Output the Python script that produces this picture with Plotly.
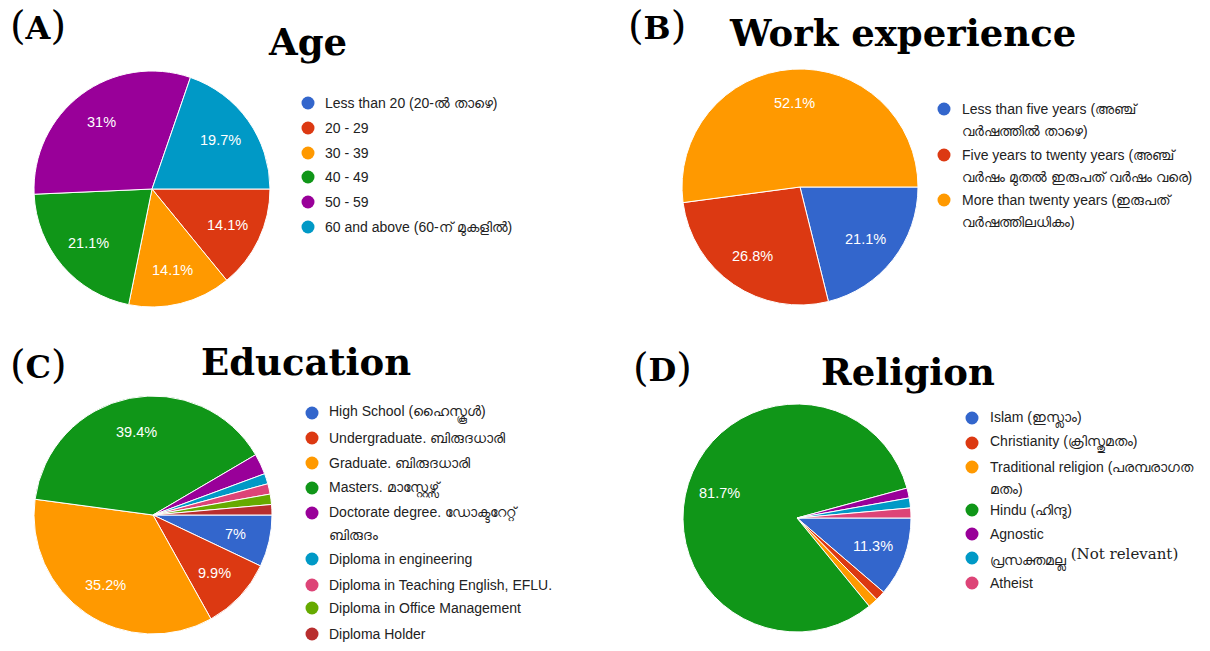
import math
import plotly.graph_objects as go

W, H = 1210, 651

COLORS = ["#3366cc", "#dc3912", "#ff9900", "#109618", "#990099",
          "#0099c6", "#dd4477", "#66aa00", "#b82e2e"]

# ---------------- data ----------------
age_labels = ["Less than 20 (20-ൽ താഴെ)", "20 - 29", "30 - 39", "40 - 49", "50 - 59",
              "60 and above (60-ന് മുകളിൽ)"]
age_values = [0, 10, 10, 15, 22, 14]

work_labels = ["Less than five years (അഞ്ച്<br>വർഷത്തിൽ താഴെ)",
               "Five years to twenty years (അഞ്ച്<br>വർഷം മുതൽ ഇരുപത് വർഷം വരെ)",
               "More than twenty years (ഇരുപത്<br>വർഷത്തിലധികം)"]
work_values = [15, 19, 37]

edu_labels = ["High School (ഹൈസ്കൂൾ)", "Undergraduate. ബിരുദധാരി", "Graduate. ബിരുദധാരി",
              "Masters. മാസ്റ്റേഴ്സ്", "Doctorate degree. ഡോക്ടറേറ്റ്<br>ബിരുദം",
              "Diploma in engineering", "Diploma in Teaching English, EFLU.",
              "Diploma in Office Management", "Diploma Holder"]
edu_values = [5, 7, 25, 28, 2, 1, 1, 1, 1]

rel_labels = ["Islam (ഇസ്ലാം)", "Christianity (ക്രിസ്തുമതം)",
              "Traditional religion (പരമ്പരാഗത<br>മതം)", "Hindu (ഹിന്ദു)", "Agnostic",
              "പ്രസക്തമല്ല", "Atheist"]
rel_values = [8, 1, 1, 58, 1, 1, 1]
rel_note = "(Not relevant)"

panel_tags = ["A", "B", "C", "D"]
panel_titles = ["Age", "Work experience", "Education", "Religion"]

SANS = "Arial, Liberation Sans, sans-serif"
SERIF = "DejaVu Serif, serif"

# ---------------- layout helpers ----------------
def px(x):
    return x / W

def py(y):
    return 1 - y / H

def pct_str(v, tot):
    return f"{round(v / tot * 100, 1):g}%"

panels = [
    dict(values=age_values, labels=age_labels, cx=152, cy=189, r=118,
         lx=308, tx=323, rows=[103, 128, 153, 177, 202, 227],
         title=(307, 42), tag=(8, 25)),
    dict(values=work_values, labels=work_labels, cx=800, cy=187, r=118,
         lx=944, tx=960, rows=[109, 155, 200],
         title=(902, 33), tag=(626, 25)),
    dict(values=edu_values, labels=edu_labels, cx=153, cy=515, r=119,
         lx=312, tx=327, rows=[413, 438, 463, 488, 513, 559, 585, 608, 634],
         title=(306, 362), tag=(8, 364)),
    dict(values=rel_values, labels=rel_labels, cx=797, cy=518, r=114,
         lx=972, tx=988, rows=[418, 443, 467, 510, 534, 558, 583],
         title=(908, 372), tag=(631, 367)),
]

LABEL_R = 0.71   # radial position of the percentage labels (fraction of radius)
LINE_GAP = 22    # spacing of wrapped legend lines

fig = go.Figure()
shapes = []
annotations = []

for i, p in enumerate(panels):
    cx, cy, r = p["cx"], p["cy"], p["r"]
    vals = p["values"]
    tot = sum(vals)
    fig.add_trace(go.Pie(
        values=vals, labels=[l.replace("<br>", " ") for l in p["labels"]],
        textinfo="none",
        marker=dict(colors=COLORS[:len(vals)], line=dict(color="white", width=1)),
        sort=False, direction="clockwise", rotation=90,
        domain=dict(x=[px(cx - r), px(cx + r)], y=[py(cy + r), py(cy - r)]),
        showlegend=False, hoverinfo="label+percent",
    ))
    # percentage labels (only slices >= 5%), placed on each slice's mid-angle
    cum = 0
    for v in vals:
        mid = math.radians(90 + 360 * (cum + v / 2) / tot)
        cum += v
        if v / tot < 0.05:
            continue
        x = cx + LABEL_R * r * math.sin(mid)
        y = cy - LABEL_R * r * math.cos(mid)
        annotations.append(dict(text=pct_str(v, tot), xref="paper", yref="paper",
                                x=px(x), y=py(y), xanchor="center", yanchor="middle",
                                showarrow=False,
                                font=dict(family=SANS, size=14.5, color="white")))
    # legend
    for j, (lab, y) in enumerate(zip(p["labels"], p["rows"])):
        d = 6.5
        shapes.append(dict(type="circle", xref="paper", yref="paper",
                           x0=px(p["lx"] - d), x1=px(p["lx"] + d),
                           y0=py(y + d), y1=py(y - d),
                           fillcolor=COLORS[j], line=dict(width=0)))
        for k, line in enumerate(lab.split("<br>")):
            if i == 3 and line == rel_labels[5]:
                line = (line + f"<sup><span style=\"font-family:'DejaVu Serif';font-size:15px\">"
                        f" {rel_note}</span></sup>")
            annotations.append(dict(text=line, xref="paper", yref="paper",
                                    x=px(p["tx"]), y=py(y + k * LINE_GAP),
                                    xanchor="left", yanchor="middle",
                                    align="left", showarrow=False,
                                    font=dict(family=SANS, size=14, color="#222222")))
    # title & tag
    annotations.append(dict(text=f"<b>{panel_titles[i]}</b>", xref="paper", yref="paper",
                            x=px(p["title"][0]), y=py(p["title"][1]), xanchor="center",
                            yanchor="middle", showarrow=False,
                            font=dict(family=SERIF, size=37, color="black")))
    annotations.append(dict(text=(f"<span style=\"font-size:40px\">(</span>"
                                  f"<b>{panel_tags[i]}</b>"
                                  f"<span style=\"font-size:40px\">)</span>"),
                            xref="paper", yref="paper",
                            x=px(p["tag"][0]), y=py(p["tag"][1]), xanchor="left",
                            yanchor="middle", showarrow=False,
                            font=dict(family=SERIF, size=32, color="black")))

fig.update_layout(
    width=W, height=H, margin=dict(l=0, r=0, t=0, b=0),
    paper_bgcolor="white", plot_bgcolor="white",
    shapes=shapes, annotations=annotations, showlegend=False,
)

fig.write_html("out.html", config={"displayModeBar": False},
               post_script="document.body.style.margin='0px';")
